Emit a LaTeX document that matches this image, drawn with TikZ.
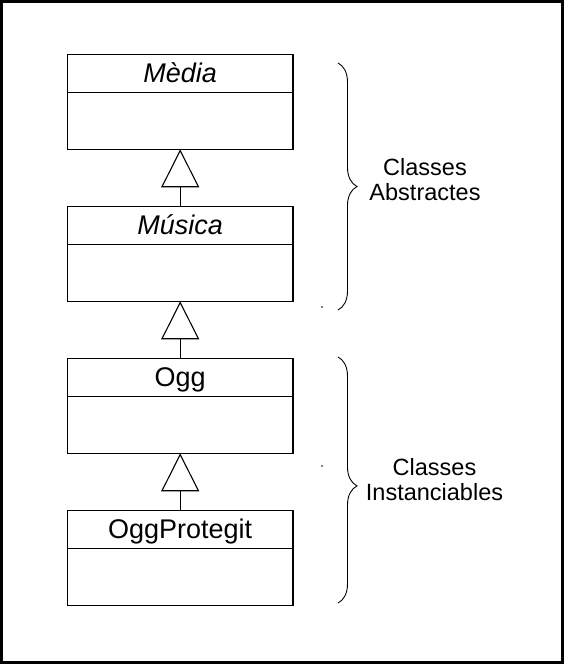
\documentclass[tikz,border=0pt]{standalone}
\usepackage{fontspec}
\setmainfont{Liberation Sans}
\usetikzlibrary{arrows.meta, positioning, decorations.pathreplacing}

\begin{document}
\begin{tikzpicture}[x=1pt, y=-1pt,
    classname/.style={draw, line width=1.1pt, outer sep=0pt, inner sep=0pt,
        minimum width=225.5pt, minimum height=38pt,
        text height=19pt, text depth=0pt, font=\fontsize{27}{30}\selectfont},
    classbody/.style={draw, line width=1.1pt, outer sep=0pt, inner sep=0pt,
        minimum width=225.5pt, minimum height=57pt},
    inherits/.style={line width=1.1pt,
        -{Triangle[open, length=38pt, width=38pt, line width=1.1pt]}},
    groupbrace/.style={decorate, decoration={brace, amplitude=19pt, #1}, line width=0.9pt},
    groupbrace/.default={aspect=0.5},
    grouplabel/.style={align=center, font=\fontsize{23.5}{25}\selectfont}]
    \useasboundingbox (0,0) rectangle (564,664);

    % Frame round the picture
    \draw[line width=2.8pt] (1.3,1.1) rectangle (562.6,662.4);

    % The four classes
    \node[classname] (media) at (180.2,73.3) {\itshape Mèdia};
    \node[classbody, below=0pt of media] (mediab) {};
    \node[classname, below=57pt of mediab] (musica) {\itshape Música};
    \node[classbody, below=0pt of musica] (musicab) {};
    \node[classname, below=57pt of musicab] (ogg) {Ogg};
    \node[classbody, below=0pt of ogg] (oggb) {};
    \node[classname, below=57pt of oggb] (protegit) {OggProtegit};
    \node[classbody, below=0pt of protegit] (protegitb) {};

    % Inheritance
    \foreach \child/\parent in {musica/mediab, ogg/musicab, protegit/oggb} {
        \draw[inherits] (\child.north) -- (\parent.south);
    }

    % Groups
    \coordinate (abstop) at (338,63);
    \coordinate (absbot) at (338,310);
    \coordinate (insttop) at (338,357);
    \coordinate (instbot) at (338,603);
    \draw[groupbrace] (abstop) -- (absbot);
    \draw[groupbrace={aspect=0.524}] (insttop) -- (instbot);
    \node[grouplabel] (abslabel) at (425,180) {Classes\\Abstractes};
    \node[grouplabel] (instlabel) at (434.5,480) {Classes\\Instanciables};

    % Stray dots
    \fill (322,307) circle (0.8);
    \fill (322,466) circle (0.8);
\end{tikzpicture}
\end{document}
